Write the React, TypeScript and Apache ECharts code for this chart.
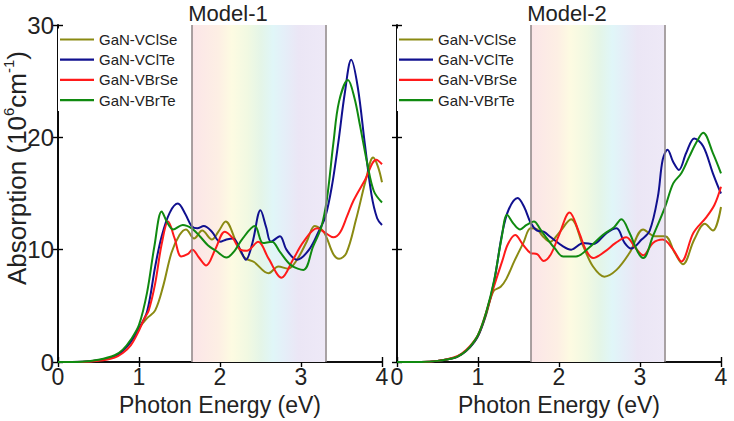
import React, { useEffect, useRef } from "react";
import * as echarts from "echarts";

const FONT = "'Liberation Sans', Arial, Helvetica, sans-serif";

const seriesNames = ["GaN-VClSe", "GaN-VClTe", "GaN-VBrSe", "GaN-VBrTe"];
const seriesColors = ["#8a8a12", "#10108f", "#ff1a1a", "#108a10"];
const panelTitles = ["Model-1", "Model-2"];
const xTicks = [0, 1, 2, 3, 4];
const yTicks = [0, 10, 20, 30];
// visible-light window (eV)
const visibleBand = [1.65, 3.3];

// Model-1 spectra: [photon energy (eV), absorption (10^6 cm^-1)]
const m1VClSe = [
  [0, 0], [0.3, 0.02], [0.5, 0.15], [0.7, 0.5], [0.8, 1.0], [0.9, 1.8], [1.0, 3.0],
  [1.1, 3.9], [1.2, 4.6], [1.3, 6.8], [1.4, 9.7], [1.5, 11.3], [1.58, 11.8], [1.68, 11.0],
  [1.78, 11.7], [1.9, 10.9], [1.98, 11.6], [2.07, 12.5], [2.2, 10.7], [2.3, 9.3], [2.42, 8.9],
  [2.6, 7.9], [2.72, 8.5], [2.84, 8.3], [2.95, 9.1], [3.07, 10.7], [3.17, 12.1], [3.28, 11.6],
  [3.4, 9.6], [3.47, 9.2], [3.56, 9.7], [3.68, 12.7], [3.8, 16.2], [3.89, 18.2], [3.95, 17.4],
  [4.0, 16.0],
];
const m1VClTe = [
  [0, 0], [0.3, 0.02], [0.5, 0.15], [0.7, 0.5], [0.8, 1.0], [0.9, 1.8], [1.0, 3.0],
  [1.1, 4.5], [1.2, 8.5], [1.28, 11.2], [1.38, 13.3], [1.48, 14.1], [1.57, 13.2], [1.65, 12.1],
  [1.72, 11.9], [1.8, 12.1], [1.9, 11.6], [2.0, 10.7], [2.08, 10.9], [2.16, 11.0], [2.25, 10.0],
  [2.32, 9.1], [2.4, 10.6], [2.5, 13.5], [2.57, 12.0], [2.63, 10.7], [2.74, 11.2], [2.82, 10.0],
  [2.95, 9.1], [3.1, 10.0], [3.23, 11.8], [3.3, 12.9], [3.38, 15.6], [3.46, 19.5], [3.54, 23.9],
  [3.62, 26.9], [3.7, 24.5], [3.79, 19.3], [3.87, 14.9], [3.94, 12.8], [4.0, 12.2],
];
const m1VBrSe = [
  [0, 0], [0.3, 0.01], [0.5, 0.1], [0.7, 0.4], [0.8, 0.8], [0.9, 1.5], [1.0, 2.8],
  [1.06, 3.8], [1.12, 4.6], [1.2, 7.0], [1.28, 10.5], [1.36, 12.5], [1.44, 11.0], [1.52, 9.4],
  [1.6, 9.6], [1.66, 10.0], [1.74, 9.3], [1.83, 8.6], [1.94, 10.0], [2.06, 11.6], [2.16, 11.0],
  [2.25, 10.0], [2.33, 9.9], [2.47, 10.7], [2.6, 9.2], [2.76, 7.5], [2.9, 9.1], [3.03, 10.7],
  [3.2, 11.9], [3.3, 11.5], [3.4, 11.1], [3.48, 11.5], [3.57, 13.0], [3.65, 14.4], [3.79, 16.2],
  [3.93, 18.0], [4.0, 17.6],
];
const m1VBrTe = [
  [0, 0], [0.3, 0.03], [0.5, 0.2], [0.7, 0.6], [0.8, 1.1], [0.9, 2.0], [1.0, 3.3],
  [1.1, 6.2], [1.19, 10.3], [1.28, 13.4], [1.35, 12.4], [1.42, 11.8], [1.54, 12.2], [1.65, 11.9],
  [1.75, 11.2], [1.85, 10.4], [1.95, 9.9], [2.08, 9.3], [2.18, 9.9], [2.27, 10.9], [2.43, 12.1],
  [2.53, 10.6], [2.64, 10.7], [2.74, 9.8], [2.88, 8.6], [3.03, 8.2], [3.15, 10.3], [3.25, 12.0],
  [3.32, 14.5], [3.4, 19.5], [3.47, 23.2], [3.58, 25.1], [3.66, 23.5], [3.73, 21.0], [3.82, 17.6],
  [3.9, 15.2], [4.0, 14.2],
];

// Model-2 spectra
const m2VClSe = [
  [0, 0], [0.3, 0.01], [0.5, 0.1], [0.7, 0.35], [0.8, 0.7], [0.9, 1.3], [1.0, 2.3],
  [1.1, 4.2], [1.19, 6.3], [1.28, 6.7], [1.35, 7.4], [1.45, 9.0], [1.56, 10.6], [1.65, 11.9],
  [1.73, 11.8], [1.8, 11.2], [1.89, 10.7], [2.0, 11.5], [2.15, 12.7], [2.3, 10.3], [2.42, 8.5],
  [2.56, 7.6], [2.71, 8.2], [2.87, 9.7], [3.04, 11.8], [3.18, 11.2], [3.31, 11.2], [3.43, 9.7],
  [3.53, 8.7], [3.67, 10.9], [3.8, 12.3], [3.9, 11.7], [4.0, 13.8],
];
const m2VClTe = [
  [0, 0], [0.3, 0.01], [0.5, 0.1], [0.7, 0.35], [0.8, 0.7], [0.9, 1.3], [1.0, 2.3],
  [1.1, 4.3], [1.2, 7.2], [1.3, 11.5], [1.38, 13.6], [1.49, 14.6], [1.57, 13.8], [1.65, 12.4],
  [1.73, 11.7], [1.81, 11.6], [1.9, 11.1], [2.05, 10.3], [2.15, 10.0], [2.3, 10.6], [2.42, 10.5],
  [2.59, 11.5], [2.71, 11.9], [2.81, 10.6], [2.89, 10.1], [3.02, 10.9], [3.12, 11.7], [3.22, 14.7],
  [3.28, 18.0], [3.34, 18.9], [3.41, 17.8], [3.48, 17.1], [3.57, 18.6], [3.67, 19.9], [3.78, 19.2],
  [3.9, 16.8], [4.0, 15.0],
];
const m2VBrSe = [
  [0, 0], [0.3, 0.01], [0.5, 0.1], [0.7, 0.4], [0.8, 0.75], [0.9, 1.4], [1.0, 2.4],
  [1.1, 4.4], [1.2, 6.8], [1.3, 9.0], [1.37, 10.5], [1.46, 11.3], [1.55, 10.5], [1.65, 9.7],
  [1.73, 9.6], [1.81, 9.0], [1.9, 9.6], [2.0, 11.3], [2.13, 13.3], [2.25, 11.5], [2.33, 10.0],
  [2.42, 9.25], [2.56, 9.8], [2.7, 10.6], [2.83, 11.1], [2.95, 10.1], [3.04, 9.5], [3.16, 10.6],
  [3.28, 10.9], [3.41, 10.0], [3.51, 8.95], [3.66, 11.5], [3.82, 12.9], [3.92, 14.0], [4.0, 15.6],
];
const m2VBrTe = [
  [0, 0], [0.3, 0.01], [0.5, 0.1], [0.7, 0.35], [0.8, 0.7], [0.9, 1.35], [1.0, 2.4],
  [1.1, 4.4], [1.2, 7.3], [1.29, 11.0], [1.36, 13.1], [1.44, 12.3], [1.52, 11.8], [1.6, 12.2],
  [1.69, 12.5], [1.77, 11.8], [1.85, 11.0], [1.95, 10.1], [2.05, 9.4], [2.21, 9.4], [2.36, 10.1],
  [2.54, 11.3], [2.68, 12.0], [2.77, 12.7], [2.87, 11.5], [2.98, 9.7], [3.04, 9.25], [3.16, 11.2],
  [3.31, 13.8], [3.41, 15.9], [3.51, 16.8], [3.61, 18.3], [3.7, 19.6], [3.78, 20.4], [3.9, 18.6],
  [4.0, 16.8],
];

const panels = [
  [m1VClSe, m1VClTe, m1VBrSe, m1VBrTe],
  [m2VClSe, m2VClTe, m2VBrSe, m2VBrTe],
];

const gridBoxes = [
  { left: 58, top: 25, width: 324, height: 337 },
  { left: 397, top: 25, width: 324, height: 337 },
];

export default function App() {
  const ref = useRef<HTMLDivElement>(null);

  useEffect(() => {
    if (!ref.current) return;
    const chart = echarts.init(ref.current, undefined, { renderer: "svg" });

    const axisLine = { show: true, lineStyle: { color: "#000", width: 1.6 } };
    const tick = { show: true, inside: true, length: 5, lineStyle: { color: "#000", width: 1.4 } };

    const xAxes: any[] = [];
    const yAxes: any[] = [];
    gridBoxes.forEach((_, g) => {
      xAxes.push({
        type: "value", gridIndex: g, position: "bottom", min: xTicks[0], max: xTicks[xTicks.length - 1], interval: 1,
        axisLine, axisTick: tick, splitLine: { show: false },
        axisLabel: { fontSize: 23, color: "#222", fontFamily: FONT, margin: 3 },
        name: "Photon Energy (eV)", nameLocation: "middle", nameGap: 31,
        nameTextStyle: { fontSize: 23, color: "#222", fontFamily: FONT },
      });
      xAxes.push({
        type: "value", gridIndex: g, position: "top", min: 0, max: 4, interval: 1,
        axisLine, axisTick: tick, axisLabel: { show: false }, splitLine: { show: false },
      });
      yAxes.push({
        type: "value", gridIndex: g, position: "left", min: yTicks[0], max: yTicks[yTicks.length - 1], interval: 10,
        axisLine, axisTick: tick, splitLine: { show: false },
        axisLabel: { show: g === 0, fontSize: 24, color: "#222", fontFamily: FONT, margin: 4 },
      });
      yAxes.push({
        type: "value", gridIndex: g, position: "right", min: 0, max: 30, interval: 10,
        axisLine, axisTick: tick, axisLabel: { show: false }, splitLine: { show: false },
      });
    });

    const bandFill = new echarts.graphic.LinearGradient(0, 0, 1, 0, [
      { offset: 0, color: "#fbe5e8" },
      { offset: 0.2, color: "#fdefe4" },
      { offset: 0.3, color: "#fdfbe2" },
      { offset: 0.42, color: "#f1f9e2" },
      { offset: 0.52, color: "#e4f5e8" },
      { offset: 0.61, color: "#e0f6f8" },
      { offset: 0.7, color: "#e5eef8" },
      { offset: 0.8, color: "#ebe6f5" },
      { offset: 1, color: "#eee9f7" },
    ]);

    const series: any[] = [];
    panels.forEach((curves, g) => {
      series.push({
        type: "line",
        name: "band" + g,
        xAxisIndex: g * 2,
        yAxisIndex: g * 2,
        data: [],
        z: 1,
        silent: true,
        markArea: {
          silent: true,
          itemStyle: { color: bandFill },
          data: [[{ xAxis: visibleBand[0] }, { xAxis: visibleBand[1] }]],
        },
        markLine: {
          silent: true,
          symbol: ["none", "none"],
          label: { show: false },
          lineStyle: { color: "#8c8486", width: 1.5, type: "solid" },
          data: [{ xAxis: visibleBand[0] }, { xAxis: visibleBand[1] }],
        },
      });
      curves.forEach((pts, i) => {
        series.push({
          type: "line",
          name: seriesNames[i],
          xAxisIndex: g * 2,
          yAxisIndex: g * 2,
          data: pts,
          smooth: 0.35,
          symbol: "none",
          showSymbol: false,
          z: 3,
          lineStyle: { color: seriesColors[i], width: 2 },
          itemStyle: { color: seriesColors[i] },
        });
      });
    });

    const legends = gridBoxes.map((b) => ({
      orient: "vertical",
      left: b.left,
      top: 28.5,
      data: seriesNames,
      selectedMode: false,
      icon: "rect",
      itemWidth: 34,
      itemHeight: 2.2,
      itemGap: 4.2,
      padding: [3, 4, 3, 2],
      backgroundColor: "#fff",
      textStyle: { fontSize: 15, lineHeight: 16, color: "#222", fontFamily: FONT },
    }));

    chart.setOption({
      animation: false,
      backgroundColor: "#fff",
      grid: gridBoxes.map((b) => ({ ...b, containLabel: false })),
      xAxis: xAxes,
      yAxis: yAxes,
      legend: legends,
      series,
      graphic: [
        ...panelTitles.map((t, g) => ({
          type: "text",
          x: gridBoxes[g].left + gridBoxes[g].width / 2 + 8,
          y: 13,
          style: { text: t, fontSize: 22, fill: "#222", fontFamily: FONT, align: "center", verticalAlign: "middle" },
        })),
        {
          type: "text",
          x: 17,
          y: 168,
          rotation: Math.PI / 2,
          style: {
            text: "{a|Absorption (10}{s|6}{a|cm}{s|-1}{a|)}",
            align: "center",
            verticalAlign: "middle",
            fill: "#222",
            fontFamily: FONT,
            rich: {
              a: { fontSize: 26, lineHeight: 32, fill: "#222", fontFamily: FONT },
              s: { fontSize: 15, lineHeight: 15, verticalAlign: "top", fill: "#222", fontFamily: FONT },
            },
          },
        },
      ],
    });

    return () => chart.dispose();
  }, []);

  return (
    <div
      ref={ref}
      style={{ position: "fixed", left: 0, top: 0, width: 734, height: 421, background: "#fff" }}
    />
  );
}
